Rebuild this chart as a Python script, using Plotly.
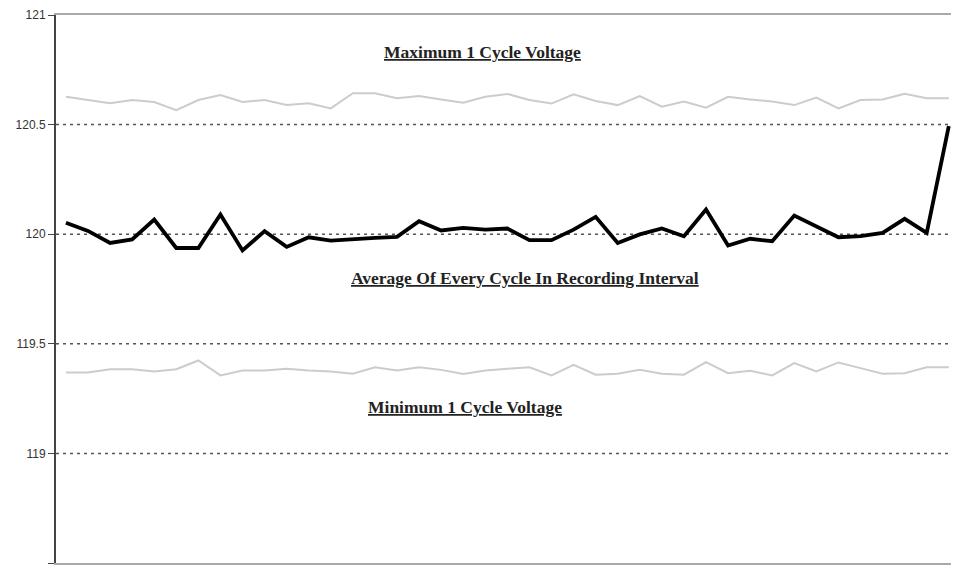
import plotly.graph_objects as go

# one value per recording interval (41 intervals)
intervals = list(range(41))

max_voltage = [
    120.627, 120.612, 120.597, 120.612, 120.603, 120.566, 120.612, 120.635,
    120.603, 120.612, 120.589, 120.597, 120.574, 120.643, 120.643, 120.620,
    120.630, 120.615, 120.600, 120.627, 120.640, 120.612, 120.596, 120.638,
    120.608, 120.589, 120.630, 120.582, 120.605, 120.577, 120.627, 120.615,
    120.605, 120.589, 120.623, 120.574, 120.612, 120.615, 120.641, 120.620,
    120.620,
]

avg_voltage = [
    120.052, 120.015, 119.960, 119.976, 120.067, 119.937, 119.937, 120.090,
    119.926, 120.014, 119.942, 119.986, 119.971, 119.979, 119.983, 119.988,
    120.059, 120.017, 120.029, 120.021, 120.026, 119.973, 119.973, 120.021,
    120.079, 119.960, 119.999, 120.026, 119.991, 120.113, 119.948, 119.979,
    119.968, 120.085, 120.037, 119.986, 119.991, 120.006, 120.070, 120.006,
    120.493,
]

min_voltage = [
    119.369, 119.369, 119.384, 119.384, 119.374, 119.384, 119.424, 119.356,
    119.378, 119.378, 119.386, 119.378, 119.374, 119.363, 119.393, 119.378,
    119.393, 119.381, 119.362, 119.378, 119.386, 119.393, 119.356, 119.404,
    119.359, 119.363, 119.381, 119.363, 119.359, 119.416, 119.366, 119.377,
    119.356, 119.412, 119.374, 119.415, 119.389, 119.363, 119.366, 119.393,
    119.393,
]

y_ticks = [118.5, 119, 119.5, 120, 120.5, 121]
y_tick_text = ["118.5", "119", "119.5", "120", "120.5", "121"]
grid_levels = [119, 119.5, 120, 120.5]

labels = [
    ("Maximum 1 Cycle Voltage", 0.476, 120.83),
    ("Average Of Every Cycle In Recording Interval", 0.524, 119.80),
    ("Minimum 1 Cycle Voltage", 0.457, 119.21),
]

fig = go.Figure()
fig.add_trace(go.Scatter(x=intervals, y=max_voltage, mode="lines",
                         line=dict(color="#cccccc", width=2)))
fig.add_trace(go.Scatter(x=intervals, y=min_voltage, mode="lines",
                         line=dict(color="#cccccc", width=2)))
fig.add_trace(go.Scatter(x=intervals, y=avg_voltage, mode="lines",
                         line=dict(color="#000000", width=3.8)))

for lvl in grid_levels:
    fig.add_shape(type="line", xref="paper", x0=0, x1=1, yref="y", y0=lvl, y1=lvl,
                  line=dict(color="#555555", width=1.5, dash="3px,4px"), layer="below")

for text, xp, yv in labels:
    fig.add_annotation(text=f"<b><u>{text}</u></b>", xref="paper", x=xp, yref="y", y=yv,
                       showarrow=False,
                       font=dict(family="Liberation Serif", size=17.5, color="#222222"))

# page body adds an 8px offset, so the figure is sized a bit smaller
fig.update_layout(
    width=943, height=561,
    margin=dict(l=48, r=0, t=7, b=6, autoexpand=False),
    paper_bgcolor="white", plot_bgcolor="white",
    showlegend=False,
    xaxis=dict(range=[-0.45, 40.1], showgrid=False, zeroline=False,
               showticklabels=False, ticks="", showline=True, mirror=True,
               linecolor="#aaaaaa", linewidth=2),
    yaxis=dict(range=[118.5, 121], tickvals=y_ticks, ticktext=y_tick_text,
               showgrid=False, zeroline=False, ticks="outside", ticklen=6,
               tickcolor="#444444", showline=True, linecolor="#444444", linewidth=2,
               automargin=False,
               tickfont=dict(family="Liberation Sans", size=12, color="#333333")),
)

fig.write_html("out.html")
